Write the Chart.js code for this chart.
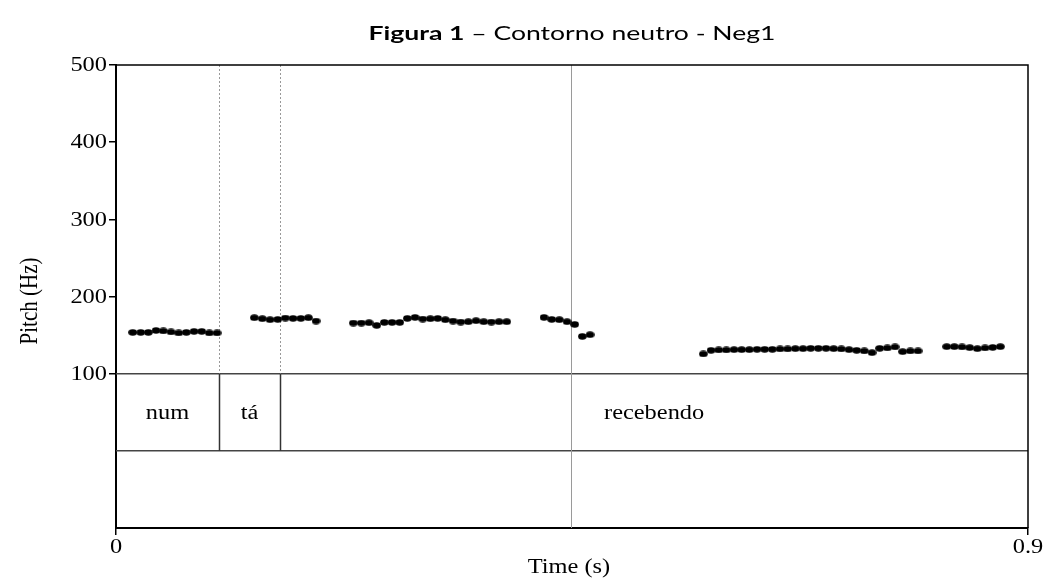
<!DOCTYPE html>
<html>
<head>
<meta charset="utf-8">
<script src="https://cdn.jsdelivr.net/npm/chart.js@4/dist/chart.umd.min.js"></script>
<style>
html,body{margin:0;padding:0;background:#fff;}
#wrap{width:1046px;height:578px;}
</style>
</head>
<body>
<div id="wrap"><canvas id="c" width="1046" height="578"></canvas></div>
<script>
// ---- data ----
const titleBold = 'Figura 1';
const titleRest = ' \u2013 Contorno neutro - Neg1';
const xAxisTitle = 'Time (s)';
const yAxisTitle = 'Pitch (Hz)';
const xTickValues = [0, 0.9];
const xTickLabels = ['0', '0.9'];
const yTickValues = [100, 200, 300, 400, 500];
const yTickLabels = ['100', '200', '300', '400', '500'];

// pitch track (seconds, Hz)
const timeS = [
  0.0165,0.0244,0.0319,0.0395,0.0467,0.0543,0.0619,0.0694,0.0770,0.0846,0.0921,0.0997,
  0.1365,0.1444,0.1520,0.1596,0.1671,0.1747,0.1824,0.1899,0.1974,
  0.2342,0.2421,0.2497,0.2573,0.2648,0.2724,0.2800,0.2875,0.2951,0.3027,0.3102,0.3175,0.3250,0.3326,0.3402,0.3477,0.3553,0.3629,0.3704,0.3780,0.3856,
  0.4224,0.4300,0.4375,0.4451,0.4527,0.4602,0.4678,
  0.5796,0.5872,0.5948,0.6023,0.6099,0.6174,0.6250,0.6326,0.6401,0.6477,0.6553,0.6628,0.6704,0.6780,0.6855,0.6931,0.7007,0.7082,0.7158,0.7234,0.7309,0.7385,0.7461,0.7536,0.7612,0.7688,0.7763,0.7839,0.7915,
  0.8198,0.8273,0.8349,0.8425,0.8500,0.8576,0.8652,0.8727
];
const pitchHz = [
  153.5,153.5,153.5,156.0,155.3,154.0,152.7,153.5,154.8,154.8,152.7,152.7,
  172.5,171.2,169.9,170.3,172.1,171.6,171.6,172.5,168.2,
  165.6,165.6,166.0,162.5,166.4,166.4,166.4,171.6,172.9,170.8,171.2,171.6,169.9,168.2,166.9,167.3,168.6,167.3,166.9,167.3,167.3,
  172.9,170.3,169.9,167.3,163.8,148.3,150.5,
  125.5,130.2,130.7,130.7,131.1,131.1,131.1,131.5,131.5,131.5,132.0,132.0,132.4,132.4,132.8,132.8,132.8,132.4,132.0,131.1,130.2,129.4,127.2,132.8,133.3,134.6,128.5,129.4,129.4,
  135.0,135.0,134.6,133.7,132.4,133.3,134.0,135.0
];

// text grid tier
const tierBoundaries = [0.1016, 0.1621];
const tierWords = ['num', 't\u00e1', 'recebendo'];
const cursorTime = 0.4495;

// ---- styles ----
const serif = '"Liberation Serif", "Times New Roman", serif';
const praatFontPx = 20;
const praatStretch = 1.22;

// elliptical dot as point style
const dot = document.createElement('canvas');
dot.width = 9; dot.height = 7;
(function(){
  const g = dot.getContext('2d');
  g.fillStyle = '#000';
  g.beginPath();
  g.ellipse(4.5, 3.5, 4.3, 3.3, 0, 0, Math.PI * 2);
  g.fill();
})();

function stretchedText(ctx, txt, x, y, align, baseline, rot) {
  ctx.save();
  ctx.translate(x, y);
  ctx.scale(praatStretch, 1);
  if (rot) ctx.rotate(rot);
  ctx.textAlign = align;
  ctx.textBaseline = baseline;
  ctx.fillText(txt, 0, 0);
  ctx.restore();
}

const praatPlugin = {
  id: 'praat',
  beforeDatasetsDraw(chart) {
    const ctx = chart.ctx;
    const xs = chart.scales.x, ys = chart.scales.y;
    const a = chart.chartArea;
    const y100 = ys.getPixelForValue(100);
    const y0 = ys.getPixelForValue(0);
    ctx.save();
    ctx.strokeStyle = '#444';
    ctx.lineWidth = 1.5;
    [y100, y0].forEach(yy => {
      ctx.beginPath(); ctx.moveTo(a.left, yy); ctx.lineTo(a.right, yy); ctx.stroke();
    });
    tierBoundaries.forEach(t => {
      const px = Math.round(xs.getPixelForValue(t)) + 0.5;
      ctx.strokeStyle = '#999';
      ctx.lineWidth = 1;
      ctx.setLineDash([2, 2]);
      ctx.beginPath(); ctx.moveTo(px, a.top); ctx.lineTo(px, y100); ctx.stroke();
      ctx.setLineDash([]);
      ctx.strokeStyle = '#333';
      ctx.lineWidth = 1.5;
      ctx.beginPath(); ctx.moveTo(px, y100); ctx.lineTo(px, y0); ctx.stroke();
    });
    const cx = Math.round(xs.getPixelForValue(cursorTime)) + 0.5;
    ctx.strokeStyle = '#9a9a9a';
    ctx.lineWidth = 1;
    ctx.beginPath(); ctx.moveTo(cx, a.top); ctx.lineTo(cx, a.bottom); ctx.stroke();
    ctx.strokeStyle = '#000';
    ctx.lineWidth = 1.5;
    ctx.beginPath();
    ctx.moveTo(a.left, a.top); ctx.lineTo(a.right, a.top); ctx.lineTo(a.right, a.bottom);
    ctx.stroke();
    ctx.restore();
  },
  afterDraw(chart) {
    const ctx = chart.ctx;
    const xs = chart.scales.x, ys = chart.scales.y;
    const a = chart.chartArea;
    ctx.save();
    ctx.fillStyle = '#000';
    ctx.font = praatFontPx + 'px ' + serif;
    yTickValues.forEach((v, i) => {
      stretchedText(ctx, yTickLabels[i], a.left - 9, ys.getPixelForValue(v) + 1, 'right', 'middle');
    });
    xTickValues.forEach((v, i) => {
      stretchedText(ctx, xTickLabels[i], xs.getPixelForValue(v), 553, 'center', 'alphabetic');
    });
    stretchedText(ctx, xAxisTitle, (a.left + a.right) / 2 - 3, 573, 'center', 'alphabetic');
    ctx.save();
    ctx.translate(37, 301);
    ctx.scale(praatStretch, 1);
    ctx.rotate(-Math.PI / 2);
    ctx.font = '21px ' + serif;
    ctx.textAlign = 'center';
    ctx.textBaseline = 'alphabetic';
    ctx.fillText(yAxisTitle, 0, 0);
    ctx.restore();
    const edges = [xs.min].concat(tierBoundaries, [xs.max]);
    const yMid = (ys.getPixelForValue(100) + ys.getPixelForValue(0)) / 2;
    tierWords.forEach((w, i) => {
      const mid = (xs.getPixelForValue(edges[i]) + xs.getPixelForValue(edges[i + 1])) / 2;
      stretchedText(ctx, w, mid, yMid + 1, 'center', 'middle');
    });
    const fs = 19;
    const boldF = 'bold ' + fs + 'px Lato, "Open Sans", sans-serif';
    const regF = fs + 'px Lato, "Open Sans", sans-serif';
    ctx.font = boldF; const wb = ctx.measureText(titleBold).width;
    ctx.font = regF; const wr = ctx.measureText(titleRest).width;
    const target = 407;
    const k = target / (wb + wr);
    const cxT = (a.left + a.right) / 2;
    ctx.save();
    ctx.translate(cxT - target / 2, 40);
    ctx.scale(k, 1);
    ctx.textAlign = 'left';
    ctx.textBaseline = 'alphabetic';
    ctx.fillStyle = '#000';
    ctx.font = boldF; ctx.fillText(titleBold, 0, 0);
    ctx.font = regF; ctx.fillText(titleRest, wb, 0);
    ctx.restore();
    ctx.restore();
  }
};

const points = timeS.map((t, i) => ({ x: t, y: pitchHz[i] }));

new Chart(document.getElementById('c'), {
  type: 'scatter',
  data: {
    datasets: [{
      label: 'Pitch',
      data: points,
      pointStyle: dot,
      pointRadius: 4,
      backgroundColor: '#000',
      borderWidth: 0,
      showLine: false
    }]
  },
  options: {
    responsive: false,
    animation: false,
    devicePixelRatio: 1,
    layout: { padding: { top: 65, right: 18, left: 0, bottom: 0 } },
    plugins: { legend: { display: false }, tooltip: { enabled: false }, title: { display: false } },
    scales: {
      x: {
        type: 'linear', min: 0, max: 0.9,
        afterBuildTicks: s => { s.ticks = xTickValues.map(v => ({ value: v })); },
        afterFit: s => { s.height = 50; },
        ticks: { display: false },
        grid: { drawOnChartArea: false, drawTicks: true, tickLength: 7, color: '#000', lineWidth: 1.5 },
        border: { display: true, color: '#000', width: 2 }
      },
      y: {
        type: 'linear', min: -100, max: 500,
        afterBuildTicks: s => { s.ticks = yTickValues.map(v => ({ value: v })); },
        afterFit: s => { s.width = 116; },
        ticks: { display: false },
        grid: { drawOnChartArea: false, drawTicks: true, tickLength: 7, color: '#000', lineWidth: 1.5 },
        border: { display: true, color: '#000', width: 2 }
      }
    }
  },
  plugins: [praatPlugin]
});
</script>
</body>
</html>
